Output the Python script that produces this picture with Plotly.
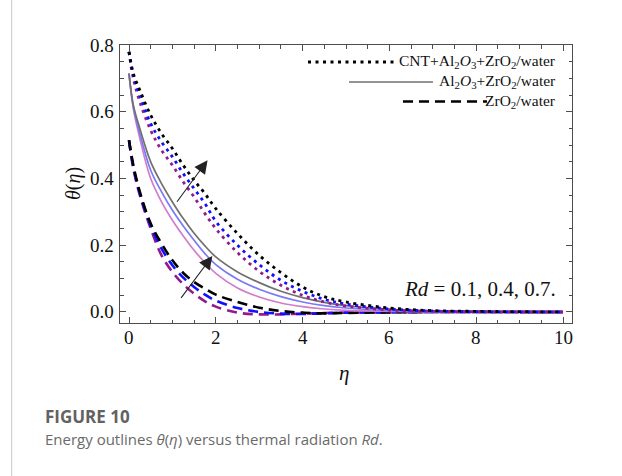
import plotly.graph_objects as go

# ---------------- data ----------------
eta = [0, 0.1, 0.25, 0.5, 0.75, 1.0, 1.25, 1.5, 1.75, 2.0, 2.5, 3.0, 3.5, 4.0, 4.5, 5.0, 6.0, 7.0, 8.0, 9.0, 10.0]

rd_labels = ["0.1", "0.4", "0.7"]

# CNT+Al2O3+ZrO2/water (dotted)
cnt_rd01 = [0.78, 0.70, 0.63, 0.545, 0.485, 0.44, 0.39, 0.345, 0.295, 0.25, 0.178, 0.122, 0.08, 0.05, 0.03, 0.018, 0.006, 0.002, 0.001, 0.0, 0.0]
cnt_rd04 = [0.78, 0.71, 0.65, 0.565, 0.51, 0.465, 0.415, 0.37, 0.325, 0.272, 0.2, 0.142, 0.095, 0.062, 0.038, 0.024, 0.009, 0.003, 0.001, 0.0, 0.0]
cnt_rd07 = [0.78, 0.715, 0.665, 0.59, 0.535, 0.49, 0.44, 0.395, 0.355, 0.31, 0.235, 0.17, 0.118, 0.075, 0.046, 0.03, 0.012, 0.004, 0.002, 0.001, 0.0]

# Al2O3+ZrO2/water (solid)
hyb_rd01 = [0.715, 0.61, 0.52, 0.40, 0.33, 0.275, 0.228, 0.185, 0.148, 0.116, 0.072, 0.045, 0.027, 0.016, 0.009, 0.005, 0.002, 0.0, 0.0, 0.0, 0.0]
hyb_rd04 = [0.715, 0.615, 0.535, 0.425, 0.36, 0.305, 0.258, 0.215, 0.175, 0.142, 0.098, 0.068, 0.046, 0.03, 0.019, 0.012, 0.004, 0.001, 0.0, 0.0, 0.0]
hyb_rd07 = [0.715, 0.62, 0.55, 0.45, 0.385, 0.33, 0.28, 0.236, 0.198, 0.165, 0.12, 0.088, 0.062, 0.043, 0.029, 0.019, 0.008, 0.003, 0.001, 0.0, 0.0]

# ZrO2/water (dashed)
zro_rd01 = [0.515, 0.43, 0.35, 0.25, 0.17, 0.12, 0.083, 0.055, 0.032, 0.016, -0.002, -0.007, -0.007, -0.005, -0.003, -0.002, -0.001, 0.0, 0.0, 0.0, 0.0]
zro_rd04 = [0.515, 0.435, 0.355, 0.258, 0.19, 0.14, 0.103, 0.075, 0.052, 0.034, 0.012, 0.0, -0.005, -0.006, -0.004, -0.002, -0.001, 0.0, 0.0, 0.0, 0.0]
zro_rd07 = [0.515, 0.44, 0.36, 0.265, 0.205, 0.155, 0.117, 0.09, 0.07, 0.052, 0.03, 0.013, 0.003, -0.002, -0.004, -0.003, -0.001, 0.0, 0.0, 0.0, 0.0]

x_ticks = [0, 2, 4, 6, 8, 10]
y_ticks = [0.0, 0.2, 0.4, 0.6, 0.8]

legend_names = ["CNT+Al<sub>2</sub><i>O</i><sub>3</sub>+ZrO<sub>2</sub>/water",
                "Al<sub>2</sub><i>O</i><sub>3</sub>+ZrO<sub>2</sub>/water",
                "ZrO<sub>2</sub>/water"]

# arrows (eta, theta): tail -> tip
arrow_upper = [(1.08, 0.326), (1.81, 0.455)]
arrow_lower = [(1.175, 0.038), (1.92, 0.168)]

# ---------------- styling ----------------
W, H = 622, 476
L, R, T, B = 120, 50, 45, 153
PW, PH = W - L - R, H - T - B

def paper(xpx, ypx):
    return (xpx - L) / PW, (H - B - ypx) / PH

purple, blue, black = "#941a8c", "#1010ff", "#000000"
pink_s, blue_s, gray_s = "#d27ccb", "#7a7af6", "#707070"

DOT = "3px,4.5px"
DASH = "10px,6px"
SERIF = "Liberation Serif"
TXT = "#111111"
FRAME = "#4d4d4d"

fig = go.Figure()

families = [
    ([zro_rd01, zro_rd04, zro_rd07], [purple, blue, black], DASH, 2.6, legend_names[2]),
    ([hyb_rd01, hyb_rd04, hyb_rd07], [pink_s, blue_s, gray_s], "solid", 1.7, legend_names[1]),
    ([cnt_rd01, cnt_rd04, cnt_rd07], [purple, blue, black], DOT, 2.8, legend_names[0]),
]
for series, colors, dash, width, name in families:
    for ys, c, rd in zip(series, colors, rd_labels):
        fig.add_trace(go.Scatter(
            x=eta, y=ys, mode="lines", name=f"{name}, Rd={rd}",
            line=dict(color=c, width=width, dash=dash, shape="spline", smoothing=1.0),
            showlegend=False, hoverinfo="skip"))

# custom legend (right aligned text, samples to the left)
legend_rows = [
    (legend_names[0], DOT, black, 2.8, 308, 395, 62),
    (legend_names[1], "solid", gray_s, 1.3, 349, 433, 82),
    (legend_names[2], DASH, black, 2.6, 403, 487, 101.5),
]
shapes = []
annotations = []
for text, dash, col, wid, x0, x1, yy in legend_rows:
    px0, py = paper(x0, yy)
    px1, _ = paper(x1, yy)
    shapes.append(dict(type="line", xref="paper", yref="paper", x0=px0, x1=px1, y0=py, y1=py,
                       line=dict(color=col, width=wid, dash=dash)))
    tx, ty = paper(558, yy)
    annotations.append(dict(text=text, xref="paper", yref="paper", x=tx, y=ty,
                            xanchor="right", yanchor="middle", showarrow=False,
                            font=dict(family=SERIF, size=15.5, color=TXT)))

# left grey page rule
gx, _ = paper(11.7, 0)
shapes.append(dict(type="line", xref="paper", yref="paper", x0=gx, x1=gx,
                   y0=paper(0, 476)[1], y1=paper(0, 0)[1],
                   line=dict(color="#c8c8c8", width=1)))

# tick labels as text placed through the axes
_, xl_y = paper(0, 337)
for v in x_ticks:
    annotations.append(dict(text=str(v), x=v, xref="x", y=xl_y, yref="paper",
                            xanchor="center", yanchor="middle", showarrow=False,
                            font=dict(family=SERIF, size=19, color=TXT)))
yl_x, _ = paper(116, 0)
for v in y_ticks:
    annotations.append(dict(text=f"{v:.1f}", x=yl_x, xref="paper", y=v, yref="y",
                            xanchor="right", yanchor="middle", showarrow=False,
                            font=dict(family=SERIF, size=19, color=TXT)))

# arrows
for (tx0, ty0), (tx1, ty1) in [arrow_upper, arrow_lower]:
    annotations.append(dict(x=tx1, y=ty1, ax=tx0, ay=ty0, xref="x", yref="y",
                            axref="x", ayref="y", text="", showarrow=True,
                            arrowhead=2, arrowsize=2.4, arrowwidth=1.1, arrowcolor="#222"))

# Rd label
rx, ry = paper(402, 288.5)
annotations.append(dict(text="<i>Rd</i>\u00a0=\u00a00.1,\u00a00.4,\u00a00.7.", xref="paper", yref="paper",
                        x=rx, y=ry, xanchor="left", yanchor="middle", showarrow=False,
                        font=dict(family=SERIF, size=21, color=TXT)))

# axis titles
ax_, ay_ = paper(73, 184)
annotations.append(dict(text="<i>θ</i>(<i>η</i>)", xref="paper", yref="paper", x=ax_, y=ay_,
                        textangle=-90, showarrow=False, xanchor="center", yanchor="middle",
                        font=dict(family=SERIF, size=20, color=TXT)))
ex, ey = paper(344, 373)
annotations.append(dict(text="<i>η</i>", xref="paper", yref="paper", x=ex, y=ey,
                        showarrow=False, xanchor="center", yanchor="middle",
                        font=dict(family=SERIF, size=21, color=TXT)))

# caption
cx, cy = paper(43, 416)
annotations.append(dict(text="<b>FIGURE 10</b>", xref="paper", yref="paper", x=cx, y=cy,
                        xanchor="left", yanchor="middle", showarrow=False,
                        font=dict(family="Open Sans", size=17, color="#626262")))
cx2, cy2 = paper(43, 439)
annotations.append(dict(
    text="Energy outlines <i>θ</i>(<i>η</i>) versus thermal radiation <i>Rd</i>.",
    xref="paper", yref="paper", x=cx2, y=cy2, xanchor="left", yanchor="middle", showarrow=False,
    font=dict(family="Open Sans", size=15, color="#6a6a6a")))

axis_common = dict(showline=True, mirror="ticks", linecolor=FRAME, linewidth=1,
                   ticks="inside", ticklen=6, tickwidth=1, tickcolor=FRAME,
                   showgrid=False, zeroline=False, showticklabels=False)

fig.update_layout(
    width=W, height=H, margin=dict(l=L, r=R, t=T, b=B, autoexpand=False),
    paper_bgcolor="white", plot_bgcolor="white",
    shapes=shapes, annotations=annotations, showlegend=False,
    xaxis=dict(range=[-0.2074, 10.207], tickmode="array", tickvals=x_ticks,
               minor=dict(ticks="inside", dtick=0.5, tick0=0, ticklen=3.5, tickcolor=FRAME),
               **axis_common),
    yaxis=dict(range=[-0.033, 0.8005], tickmode="array", tickvals=y_ticks,
               minor=dict(ticks="inside", dtick=0.05, tick0=0, ticklen=3.5, tickcolor=FRAME),
               **axis_common),
)

fig.write_html("out.html")
